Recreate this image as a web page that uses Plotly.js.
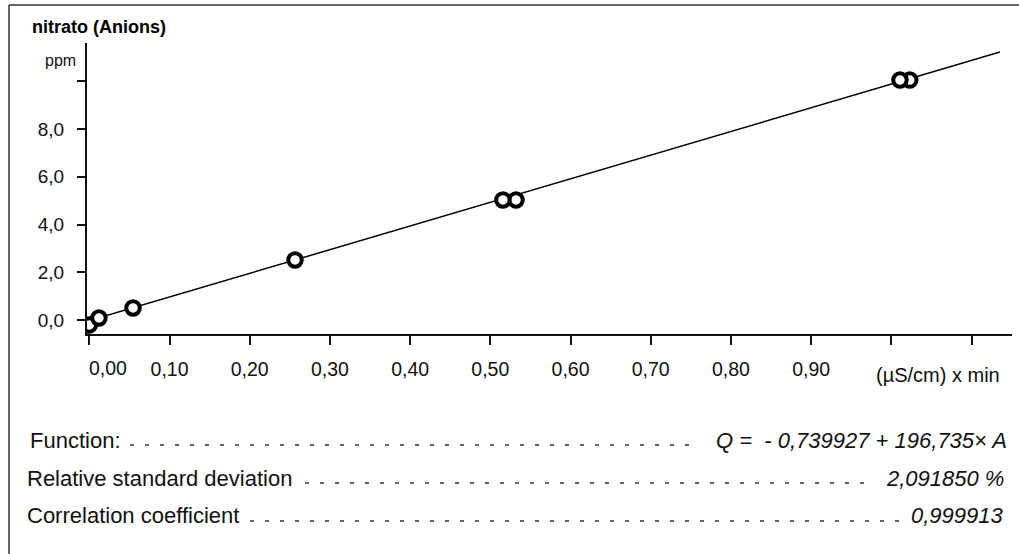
<!DOCTYPE html>
<html>
<head>
<meta charset="utf-8">
<script src="https://cdn.plot.ly/plotly-3.0.1.min.js"></script>
<style>
  html, body { margin: 0; padding: 0; background: #fff; }
  #chart { width: 1019px; height: 554px; }
</style>
</head>
<body>
<div id="chart"></div>
<script>
// ---- data ----
const stdX = [0.000, 0.012, 0.0545, 0.2565, 0.532, 0.5157, 1.023, 1.0108];
const stdY = [-0.20, 0.09, 0.51, 2.52, 5.03, 5.03, 10.05, 10.05];
const fitX = [-0.003, 1.1355];
const fitY = [-0.05, 11.22];

const xTickVals = [0, 0.1, 0.2, 0.3, 0.4, 0.5, 0.6, 0.7, 0.8, 0.9, 1.0, 1.1];
const xTickText = ['', '0,10', '0,20', '0,30', '0,40', '0,50', '0,60', '0,70', '0,80', '0,90', '', ''];
const yTickVals = [0, 2, 4, 6, 8, 10];
const yTickText = ['0,0', '2,0', '4,0', '6,0', '8,0', ''];

const chartTitle = 'nitrato (Anions)';
const yUnit = 'ppm';
const xUnit = '(µS/cm) x min';
const firstXLabel = '0,00';

const statLabels = ['Function:', 'Relative standard deviation', 'Correlation coefficient'];
const statValues = ['Q =  - 0,739927 + 196,735× A', '2,091850 %', '0,999913'];

// ---- layout helpers (pixel -> paper) ----
const W = 1019, H = 554;
const M = {l: 87, r: 7, t: 43, b: 220};
const PW = W - M.l - M.r, PH = H - M.t - M.b;
const px = v => (v - M.l) / PW;
const py = v => (H - M.b - v) / PH;

const FONT = 'Liberation Sans, Arial, sans-serif';
const INK = '#111';

const traces = [
  {
    x: fitX, y: fitY, type: 'scatter', mode: 'lines',
    line: {color: '#000', width: 1.5}, hoverinfo: 'skip', showlegend: false
  },
  {
    x: stdX, y: stdY, type: 'scatter', mode: 'markers',
    marker: {symbol: 'circle', size: 13.5, color: '#fff', line: {color: '#000', width: 4}},
    cliponaxis: true, showlegend: false
  }
];

// stats rows
const rowLabelX = [30, 27, 27];
const rowY = [440, 478, 515];
const dotFrom = [130, 305, 250];
const dotTo = [700, 875, 903];
const dotY = [445, 483, 521];
const valueRight = [1007, 1004, 1004];

const annotations = [
  {text: yUnit, xref: 'paper', yref: 'paper', x: px(45), y: py(60), xanchor: 'left', yanchor: 'middle',
   showarrow: false, font: {family: FONT, size: 16, color: INK}, borderpad: 0, borderwidth: 0},
  {text: xUnit, xref: 'paper', yref: 'paper', x: px(938), y: py(375), xanchor: 'center', yanchor: 'middle',
   showarrow: false, font: {family: FONT, size: 20, color: INK}, borderpad: 0, borderwidth: 0},
  {text: firstXLabel, xref: 'x', yref: 'paper', x: xTickVals[0], y: py(368), xanchor: 'left', yanchor: 'middle',
   showarrow: false, font: {family: FONT, size: 19.5, color: INK}, borderpad: 0, borderwidth: 0}
];
const shapes = [
  // report frame
  {type: 'line', xref: 'paper', yref: 'paper', x0: px(9), x1: px(1019), y0: py(5), y1: py(5), line: {color: '#333', width: 1.5}},
  {type: 'line', xref: 'paper', yref: 'paper', x0: px(9), x1: px(9), y0: py(5), y1: py(560), line: {color: '#333', width: 1.5}}
];
statLabels.forEach((t, i) => {
  annotations.push({text: t, xref: 'paper', yref: 'paper', x: px(rowLabelX[i]), y: py(rowY[i]),
    xanchor: 'left', yanchor: 'middle', showarrow: false, borderpad: 0, borderwidth: 0,
    font: {family: FONT, size: 22, color: INK}});
  annotations.push({text: statValues[i], xref: 'paper', yref: 'paper', x: px(valueRight[i]), y: py(rowY[i]),
    xanchor: 'right', yanchor: 'middle', showarrow: false, borderpad: 0, borderwidth: 0,
    font: {family: FONT, size: 22, color: INK, style: 'italic'}});
  shapes.push({type: 'line', xref: 'paper', yref: 'paper', x0: px(dotFrom[i]), x1: px(dotTo[i]),
    y0: py(dotY[i]), y1: py(dotY[i]), line: {color: '#333', width: 1.5, dash: '4px,11px'}});
});

const layout = {
  width: W, height: H,
  margin: M,
  paper_bgcolor: '#fff', plot_bgcolor: '#fff',
  font: {family: FONT, color: INK},
  title: {
    text: '<b>' + chartTitle + '</b>',
    xref: 'container', yref: 'container',
    x: 32 / W, xanchor: 'left', y: 1 - 27 / H, yanchor: 'middle',
    font: {family: FONT, size: 18, color: '#000'}
  },
  xaxis: {
    range: [-0.0029, 1.1505],
    tickvals: xTickVals, ticktext: xTickText,
    ticks: 'outside', ticklen: 9, tickwidth: 2, tickcolor: '#111',
    showline: true, linecolor: '#111', linewidth: 2,
    showgrid: false, zeroline: false,
    tickfont: {family: FONT, size: 19.5, color: INK},
    ticklabelstandoff: 8,
    fixedrange: true
  },
  yaxis: {
    range: [-0.58, 11.6],
    tickvals: yTickVals, ticktext: yTickText,
    ticks: 'outside', ticklen: 8, tickwidth: 2, tickcolor: '#111',
    showline: true, linecolor: '#111', linewidth: 2,
    showgrid: false, zeroline: false,
    tickfont: {family: FONT, size: 19, color: INK},
    ticklabelstandoff: 9,
    fixedrange: true
  },
  annotations: annotations,
  shapes: shapes,
  showlegend: false
};

Plotly.newPlot('chart', traces, layout, {staticPlot: true, displayModeBar: false});
</script>
</body>
</html>
